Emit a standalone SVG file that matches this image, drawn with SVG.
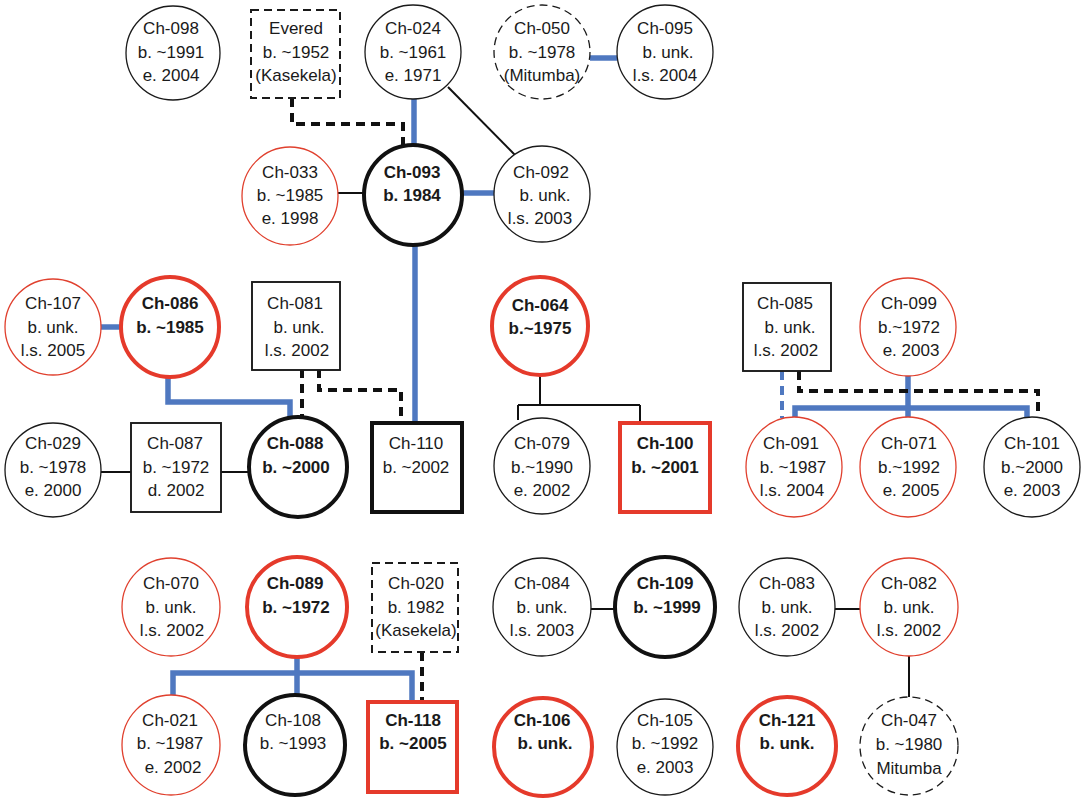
<svg xmlns="http://www.w3.org/2000/svg" width="1085" height="800" viewBox="0 0 1085 800">
<style>
text{font-family:"Liberation Sans",Arial,sans-serif;font-size:17px;text-anchor:middle;fill:#1a1a1a}
.b{font-weight:bold}
.n{fill:#fff;stroke:#1a1a1a;stroke-width:1.3}
.nb{fill:#fff;stroke:#1a1a1a;stroke-width:1.9}
.nr{fill:#fff;stroke:#e0402e;stroke-width:1.3}
.tk{fill:#fff;stroke:#111;stroke-width:4}
.tr{fill:#fff;stroke:#e53a2b;stroke-width:4}
.dn{fill:#fff;stroke:#1a1a1a;stroke-width:1.3;stroke-dasharray:8 5}
.dr{fill:#fff;stroke:#1a1a1a;stroke-width:2;stroke-dasharray:8 5}
.blue{fill:none;stroke:#4f78c0;stroke-width:5.5;stroke-linejoin:miter;stroke-linecap:butt}
.bluedash{fill:none;stroke:#4f78c0;stroke-width:4;stroke-dasharray:9 6}
.kdash{fill:none;stroke:#111;stroke-width:4;stroke-dasharray:9 6;stroke-linejoin:miter}
.thin{fill:none;stroke:#111;stroke-width:2}
</style>
<g id="connectors">
<path class="blue" d="M590,58 H617"/>
<path class="kdash" d="M292,98 V124 H403 V145"/>
<path class="blue" d="M414,99 V145"/>
<path class="thin" d="M448,87 L515,155"/>
<path class="thin" d="M338,193 H364"/>
<path class="blue" d="M462,193 H495"/>
<path class="blue" d="M415,245 V423"/>
<path class="blue" d="M101,327 H121"/>
<path class="blue" d="M168,377 V402 H290 V418"/>
<path class="kdash" d="M302,369 V418"/>
<path class="kdash" d="M319,369 V390 H401 V423"/>
<path class="thin" d="M101,472 H131"/>
<path class="thin" d="M221,472 H248"/>
<path class="thin" d="M540,375 V405 M518,405 H640 M518,405 V420 M640,405 V423"/>
<path class="bluedash" d="M782,371 V418"/>
<path class="blue" d="M908,376 V418 M795,408 H1027 M795,405.25 V420 M1027,405.25 V420"/>
<path class="kdash" d="M799,371 V391 H1038 V417"/>
<path class="thin" d="M591,609 H615"/>
<path class="thin" d="M835,609 H860"/>
<path class="thin" d="M909,656 V698"/>
<path class="blue" d="M297,657 V673 M170.25,673 H414.75 M173,673 V697 M297,673 V697 M412,673 V702"/>
<path class="kdash" d="M422,652 V702"/>
</g>
<g id="Ch-098"><ellipse class="n" cx="173" cy="53" rx="47" ry="47"/><text x="171" y="34">Ch-098</text><text x="171" y="58">b. ~1991</text><text x="171" y="81">e. 2004</text></g>
<g id="Evered"><rect class="dr" x="251" y="10" width="89" height="88"/><text x="296" y="34">Evered</text><text x="296" y="58">b. ~1952</text><text x="296" y="81">(Kasekela)</text></g>
<g id="Ch-024"><ellipse class="n" cx="413" cy="52" rx="48" ry="47"/><text x="413" y="34">Ch-024</text><text x="413" y="58">b. ~1961</text><text x="413" y="81">e. 1971</text></g>
<g id="Ch-050"><ellipse class="dn" cx="542" cy="52" rx="48" ry="47"/><text x="542" y="34">Ch-050</text><text x="542" y="58">b. ~1978</text><text x="542" y="81">(Mitumba)</text></g>
<g id="Ch-095"><ellipse class="n" cx="665" cy="52" rx="48" ry="47"/><text x="665" y="34">Ch-095</text><text x="668" y="58">b. unk.</text><text x="665" y="81">l.s. 2004</text></g>
<g id="Ch-033"><ellipse class="nr" cx="290" cy="196" rx="48" ry="49"/><text x="290" y="178">Ch-033</text><text x="290" y="201">b. ~1985</text><text x="290" y="224">e. 1998</text></g>
<g id="Ch-093"><ellipse class="tk" cx="413" cy="195" rx="49" ry="50"/><text class="b" x="412" y="178">Ch-093</text><text class="b" x="412" y="201">b. 1984</text></g>
<g id="Ch-092"><ellipse class="n" cx="542" cy="194" rx="48" ry="48"/><text x="541" y="178">Ch-092</text><text x="545" y="201">b. unk.</text><text x="540" y="224">l.s. 2003</text></g>
<g id="Ch-107"><ellipse class="nr" cx="53" cy="327" rx="48" ry="48"/><text x="53" y="309">Ch-107</text><text x="53" y="333">b. unk.</text><text x="53" y="356">l.s. 2005</text></g>
<g id="Ch-086"><ellipse class="tr" cx="170" cy="327" rx="49" ry="50"/><text class="b" x="170" y="309">Ch-086</text><text class="b" x="170" y="333">b. ~1985</text></g>
<g id="Ch-081"><rect class="nb" x="252" y="282" width="88" height="88"/><text x="295" y="309">Ch-081</text><text x="299" y="333">b. unk.</text><text x="297" y="356">l.s. 2002</text></g>
<g id="Ch-064"><ellipse class="tr" cx="540" cy="326" rx="48" ry="49"/><text class="b" x="540" y="311">Ch-064</text><text class="b" x="540" y="334">b.~1975</text></g>
<g id="Ch-085"><rect class="nb" x="743" y="283" width="88" height="88"/><text x="785" y="309">Ch-085</text><text x="790" y="333">b. unk.</text><text x="786" y="356">l.s. 2002</text></g>
<g id="Ch-099"><ellipse class="nr" cx="908" cy="327" rx="48" ry="49"/><text x="909" y="309">Ch-099</text><text x="909" y="333">b.~1972</text><text x="911" y="356">e. 2003</text></g>
<g id="Ch-029"><ellipse class="n" cx="53" cy="470" rx="48" ry="47"/><text x="53" y="449">Ch-029</text><text x="53" y="473">b. ~1978</text><text x="53" y="496">e. 2000</text></g>
<g id="Ch-087"><rect class="nb" x="131" y="423" width="90" height="89"/><text x="175" y="449">Ch-087</text><text x="176" y="473">b. ~1972</text><text x="176" y="496">d. 2002</text></g>
<g id="Ch-088"><ellipse class="tk" cx="298" cy="467" rx="49" ry="50"/><text class="b" x="295" y="449">Ch-088</text><text class="b" x="296" y="473">b. ~2000</text></g>
<g id="Ch-110"><rect class="tk" x="372" y="423" width="90" height="89"/><text x="416" y="449">Ch-110</text><text x="416" y="473">b. ~2002</text></g>
<g id="Ch-079"><ellipse class="n" cx="542" cy="466" rx="48" ry="48"/><text x="542" y="449">Ch-079</text><text x="542" y="473">b.~1990</text><text x="542" y="496">e. 2002</text></g>
<g id="Ch-100"><rect class="tr" x="620" y="423" width="90" height="89"/><text class="b" x="665" y="449">Ch-100</text><text class="b" x="665" y="473">b. ~2001</text></g>
<g id="Ch-091"><ellipse class="nr" cx="794" cy="467" rx="48" ry="50"/><text x="791" y="449">Ch-091</text><text x="793" y="473">b. ~1987</text><text x="792" y="496">l.s. 2004</text></g>
<g id="Ch-071"><ellipse class="nr" cx="908" cy="467" rx="48" ry="50"/><text x="909" y="449">Ch-071</text><text x="909" y="473">b.~1992</text><text x="911" y="496">e. 2005</text></g>
<g id="Ch-101"><ellipse class="n" cx="1032" cy="467" rx="48" ry="50"/><text x="1032" y="449">Ch-101</text><text x="1032" y="473">b.~2000</text><text x="1032" y="496">e. 2003</text></g>
<g id="Ch-070"><ellipse class="nr" cx="171" cy="607" rx="49" ry="49"/><text x="171" y="589">Ch-070</text><text x="171" y="613">b. unk.</text><text x="172" y="636">l.s. 2002</text></g>
<g id="Ch-089"><ellipse class="tr" cx="297" cy="607" rx="50" ry="50"/><text class="b" x="295" y="589">Ch-089</text><text class="b" x="296" y="613">b. ~1972</text></g>
<g id="Ch-020"><rect class="dr" x="372" y="563" width="86" height="89"/><text x="416" y="589">Ch-020</text><text x="416" y="613">b. 1982</text><text x="416" y="636">(Kasekela)</text></g>
<g id="Ch-084"><ellipse class="n" cx="542" cy="607" rx="49" ry="49"/><text x="542" y="589">Ch-084</text><text x="542" y="613">b. unk.</text><text x="542" y="636">l.s. 2003</text></g>
<g id="Ch-109"><ellipse class="tk" cx="665" cy="607" rx="50" ry="50"/><text class="b" x="665" y="589">Ch-109</text><text class="b" x="667" y="613">b. ~1999</text></g>
<g id="Ch-083"><ellipse class="n" cx="787" cy="607" rx="48" ry="49"/><text x="787" y="589">Ch-083</text><text x="787" y="613">b. unk.</text><text x="787" y="636">l.s. 2002</text></g>
<g id="Ch-082"><ellipse class="nr" cx="909" cy="607" rx="49" ry="49"/><text x="909" y="589">Ch-082</text><text x="909" y="613">b. unk.</text><text x="909" y="636">l.s. 2002</text></g>
<g id="Ch-021"><ellipse class="nr" cx="171" cy="745" rx="49" ry="50"/><text x="170" y="726">Ch-021</text><text x="170" y="749">b. ~1987</text><text x="173" y="773">e. 2002</text></g>
<g id="Ch-108"><ellipse class="tk" cx="295" cy="745" rx="50" ry="50"/><text x="293" y="726">Ch-108</text><text x="293" y="749">b. ~1993</text></g>
<g id="Ch-118"><rect class="tr" x="368" y="702" width="89" height="90"/><text class="b" x="413" y="726">Ch-118</text><text class="b" x="413" y="749">b. ~2005</text></g>
<g id="Ch-106"><ellipse class="tr" cx="543" cy="747" rx="49" ry="49"/><text class="b" x="542" y="726">Ch-106</text><text class="b" x="545" y="749">b. unk.</text></g>
<g id="Ch-105"><ellipse class="n" cx="665" cy="747" rx="48" ry="48"/><text x="665" y="726">Ch-105</text><text x="665" y="749">b. ~1992</text><text x="665" y="773">e. 2003</text></g>
<g id="Ch-121"><ellipse class="tr" cx="787" cy="746" rx="49" ry="49"/><text class="b" x="787" y="726">Ch-121</text><text class="b" x="787" y="749">b. unk.</text></g>
<g id="Ch-047"><ellipse class="dn" cx="909" cy="746" rx="49" ry="49"/><text x="909" y="726">Ch-047</text><text x="909" y="750">b. ~1980</text><text x="909" y="774">Mitumba</text></g>
</svg>
